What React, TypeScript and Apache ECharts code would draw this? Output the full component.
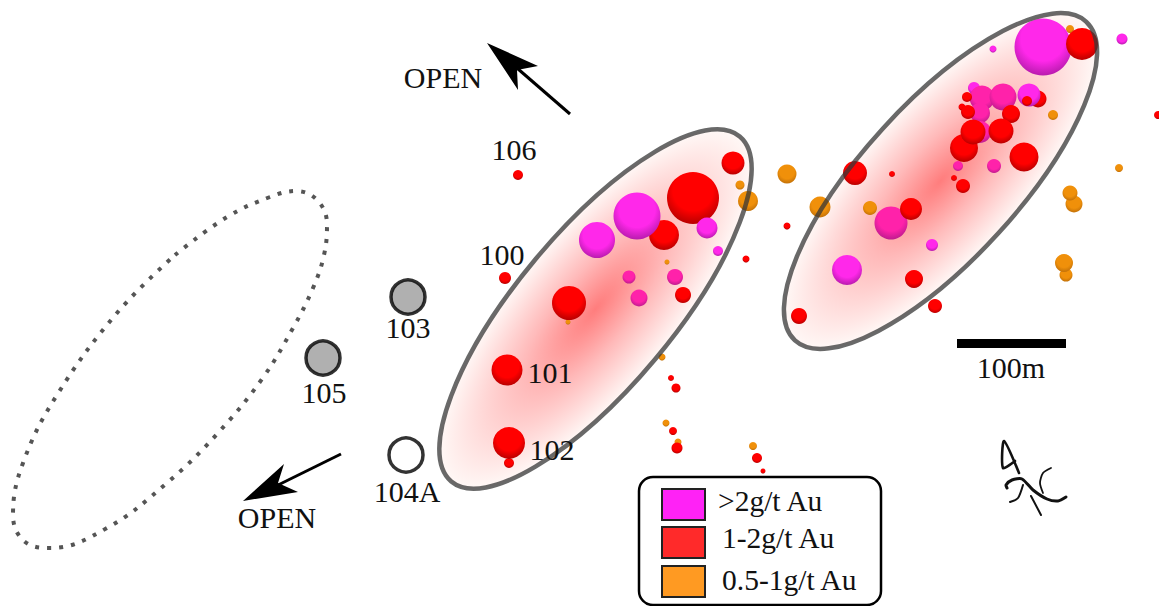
import React, { useEffect, useRef } from "react";
import * as echarts from "echarts";

const W = 1159;
const H = 606;
const SERIF = "'Liberation Serif', 'Times New Roman', serif";

// [x, y, diameter]
const orangeHoles = [
  [1070, 29, 8], [1053, 115, 10], [1119, 168, 8], [787, 174, 19], [820, 207, 21], [870, 208, 14],
  [1074, 204, 17], [1070, 193, 15], [1066, 275, 13], [1064, 263, 18], [740, 185, 9], [748, 201, 20],
  [667, 262, 5], [568, 322, 5], [662, 357, 7], [666, 423, 7], [678, 442, 7], [753, 446, 8],
];
const redLowerHoles = [
  [1038, 99, 17], [693, 198, 52], [664, 235, 30], [983, 132, 12],
];
const magentaHoles = [
  [1043, 47, 57], [1122, 39, 11], [993, 49, 7], [974, 88, 12], [1029, 95, 23], [847, 270, 30],
  [932, 245, 12], [637, 216, 47], [597, 240, 36], [707, 228, 21], [718, 251, 10],
];
const pinkHoles = [
  [982, 98, 25], [980, 113, 20], [980, 132, 22], [1003, 97, 27], [958, 166, 10], [994, 166, 14],
  [891, 223, 33], [675, 277, 16], [629, 277, 13], [639, 298, 17],
];
const redUpperHoles = [
  [1082, 44, 32], [1027, 101, 10], [967, 97, 10], [962, 107, 7], [968, 112, 14], [1011, 114, 18],
  [964, 148, 28], [973, 132, 25], [1001, 131, 25], [1024, 157, 29], [963, 186, 14], [954, 178, 6],
  [892, 174, 6], [855, 173, 24], [911, 209, 22], [914, 279, 18], [935, 306, 14], [799, 316, 16],
  [787, 226, 7], [1158, 115, 8], [518, 175, 10], [505, 278, 12], [569, 303, 34], [507, 370, 31],
  [509, 463, 10], [509, 443, 32], [733, 163, 23], [683, 295, 16], [746, 259, 7], [671, 378, 6],
  [676, 388, 9], [673, 431, 8], [677, 448, 11], [757, 458, 10], [763, 471, 5],
];
const drilledHoles = [[408, 297], [323, 358]];
const openHoles = [[406, 455]];

const openZoneOutline = [
  [175, 255], [227, 217], [270, 197], [296, 191], [318, 201], [327, 225], [324, 255], [313, 288],
  [293, 328], [262, 379], [217, 434], [168, 482], [107, 528], [50, 548], [24, 541], [13, 515],
  [23, 463], [57, 395], [117, 313], [175, 255],
];

const zones = [
  { cx: 595.5, cy: 309, rx: 225, ry: 78, rot: 50.1 },
  { cx: 940.5, cy: 181, rx: 216, ry: 78, rot: 47.6 },
];

const holeLabels: [string, number, number][] = [
  ["106", 514, 149], ["100", 502, 254], ["101", 550, 372], ["102", 552, 449],
  ["103", 408, 327], ["105", 324, 392], ["104A", 407, 491], ["OPEN", 443, 77], ["OPEN", 277, 517],
  ["100m", 1011, 367],
];

const legendItems: [string, string, number, number, number][] = [
  [">2g/t Au", "#ff22f6", 489, 718, 501],
  ["1-2g/t Au", "#ff2a2a", 527, 722, 538],
  ["0.5-1g/t Au", "#ff9a22", 566, 722, 580],
];

function sphere(top: string, bottom: string) {
  return {
    type: "radial",
    x: 0.5,
    y: 0.36,
    r: 0.7,
    colorStops: [
      { offset: 0, color: top },
      { offset: 0.55, color: top },
      { offset: 1, color: bottom },
    ],
  };
}

function bubbles(name: string, data: number[][], top: string, bottom: string) {
  return {
    name,
    type: "scatter",
    data,
    symbol: "circle",
    symbolSize: (v: number[]) => v[2],
    itemStyle: { color: sphere(top, bottom), opacity: 1 },
    silent: true,
  };
}

const line = (a: number[], b: number[]) => ({
  type: "line",
  shape: { x1: a[0], y1: a[1], x2: b[0], y2: b[1] },
  style: { stroke: "#000", lineWidth: 3 },
  z: 20,
});

const curve = (points: number[][], lineWidth: number) => ({
  type: "polyline",
  shape: { points, smooth: 0.25 },
  style: { stroke: "#111", lineWidth, fill: "none", lineCap: "round", lineJoin: "round" },
  z: 20,
});

function buildGraphics() {
  const els: any[] = [];
  zones.forEach((z) => {
    const base = { x: z.cx, y: z.cy, rotation: (z.rot * Math.PI) / 180, shape: { cx: 0, cy: 0, rx: z.rx, ry: z.ry } };
    els.push({
      type: "ellipse",
      ...base,
      z: 0,
      style: {
        fill: {
          type: "radial",
          x: 0.5,
          y: 0.5,
          r: 0.5,
          colorStops: [
            { offset: 0, color: "#ff7d7d" },
            { offset: 0.45, color: "#ffb9b9" },
            { offset: 1, color: "#fff8f6" },
          ],
        },
      },
    });
    els.push({
      type: "ellipse",
      ...base,
      z: 20,
      style: { fill: "none", stroke: "rgba(55,55,55,0.75)", lineWidth: 4.5 },
    });
  });
  holeLabels.forEach(([text, x, y]) => {
    els.push({
      type: "text",
      x,
      y,
      z: 30,
      style: { text, fontFamily: SERIF, fontSize: 30, fill: "#111", align: "center", verticalAlign: "middle" },
    });
  });
  // Arrows
  els.push(line([570, 114], [510, 62]));
  els.push({ type: "polygon", z: 20, shape: { points: [[487, 43], [538, 66], [517, 70], [518, 90]] }, style: { fill: "#000" } });
  els.push(line([341, 454], [272, 488]));
  els.push({ type: "polygon", z: 20, shape: { points: [[243, 501], [284, 464], [278, 483], [298, 492]] }, style: { fill: "#000" } });
  // Scale bar
  els.push({ type: "rect", z: 20, shape: { x: 957, y: 339, width: 109, height: 9 }, style: { fill: "#000" } });
  // North mark
  els.push(curve([[1019, 473], [1004, 441], [1003, 468], [1015, 461]], 2.6));
  els.push(curve([[1007, 488], [1006, 485], [1012, 480], [1022, 479], [1033, 490], [1047, 499], [1058, 501], [1066, 497]], 3));
  els.push(curve([[1010, 502], [1018, 498], [1023, 485]], 2));
  els.push(curve([[1043, 493], [1040, 483], [1043, 473], [1051, 468]], 1.8));
  els.push(curve([[1031, 496], [1041, 515]], 2));
  // Legend
  els.push({ type: "rect", z: 25, shape: { x: 639, y: 477, width: 242, height: 128, r: 14 }, style: { fill: "#fff", stroke: "#000", lineWidth: 2.5 } });
  legendItems.forEach(([text, color, boxY, tx, ty]) => {
    els.push({ type: "rect", z: 26, shape: { x: 662, y: boxY, width: 43, height: 31 }, style: { fill: color, stroke: "#222", lineWidth: 2 } });
    els.push({ type: "text", x: tx, y: ty, z: 26, style: { text, fontFamily: SERIF, fontSize: 29.5, fill: "#111", align: "left", verticalAlign: "middle" } });
  });
  return els;
}

export default function App() {
  const ref = useRef<HTMLDivElement>(null);
  useEffect(() => {
    const chart = echarts.init(ref.current!, null, { renderer: "svg" });
    chart.setOption({
      animation: false,
      backgroundColor: "#fff",
      grid: { left: 0, right: 0, top: 0, bottom: 0 },
      xAxis: { type: "value", min: 0, max: W, show: false },
      yAxis: { type: "value", min: 0, max: H, inverse: true, show: false },
      graphic: { elements: buildGraphics() },
      series: [
        {
          name: "Open zone",
          type: "line",
          data: openZoneOutline,
          smooth: 0.4,
          symbol: "none",
          silent: true,
          lineStyle: { color: "#555", width: 4, type: [4, 8] },
        },
        bubbles("0.5-1g/t Au", orangeHoles, "#f0900a", "#b86a08"),
        bubbles("1-2g/t Au (lower)", redLowerHoles, "#ff0000", "#a80000"),
        bubbles(">2g/t Au", magentaHoles, "#ff28ea", "#a818a0"),
        bubbles(">2g/t Au (in zone)", pinkHoles, "#ff22aa", "#b01a88"),
        bubbles("1-2g/t Au", redUpperHoles, "#ff0000", "#a80000"),
        {
          name: "Drilled",
          type: "scatter",
          data: drilledHoles,
          symbolSize: 34,
          silent: true,
          itemStyle: { color: "#9c9c9c", borderColor: "#000", borderWidth: 3.5 },
        },
        {
          name: "Planned",
          type: "scatter",
          data: openHoles,
          symbolSize: 34,
          silent: true,
          itemStyle: { color: "#fff", borderColor: "#000", borderWidth: 3.5 },
        },
      ],
    });
    return () => chart.dispose();
  }, []);
  return <div ref={ref} style={{ position: "fixed", left: 0, top: 0, width: W, height: H }} />;
}
